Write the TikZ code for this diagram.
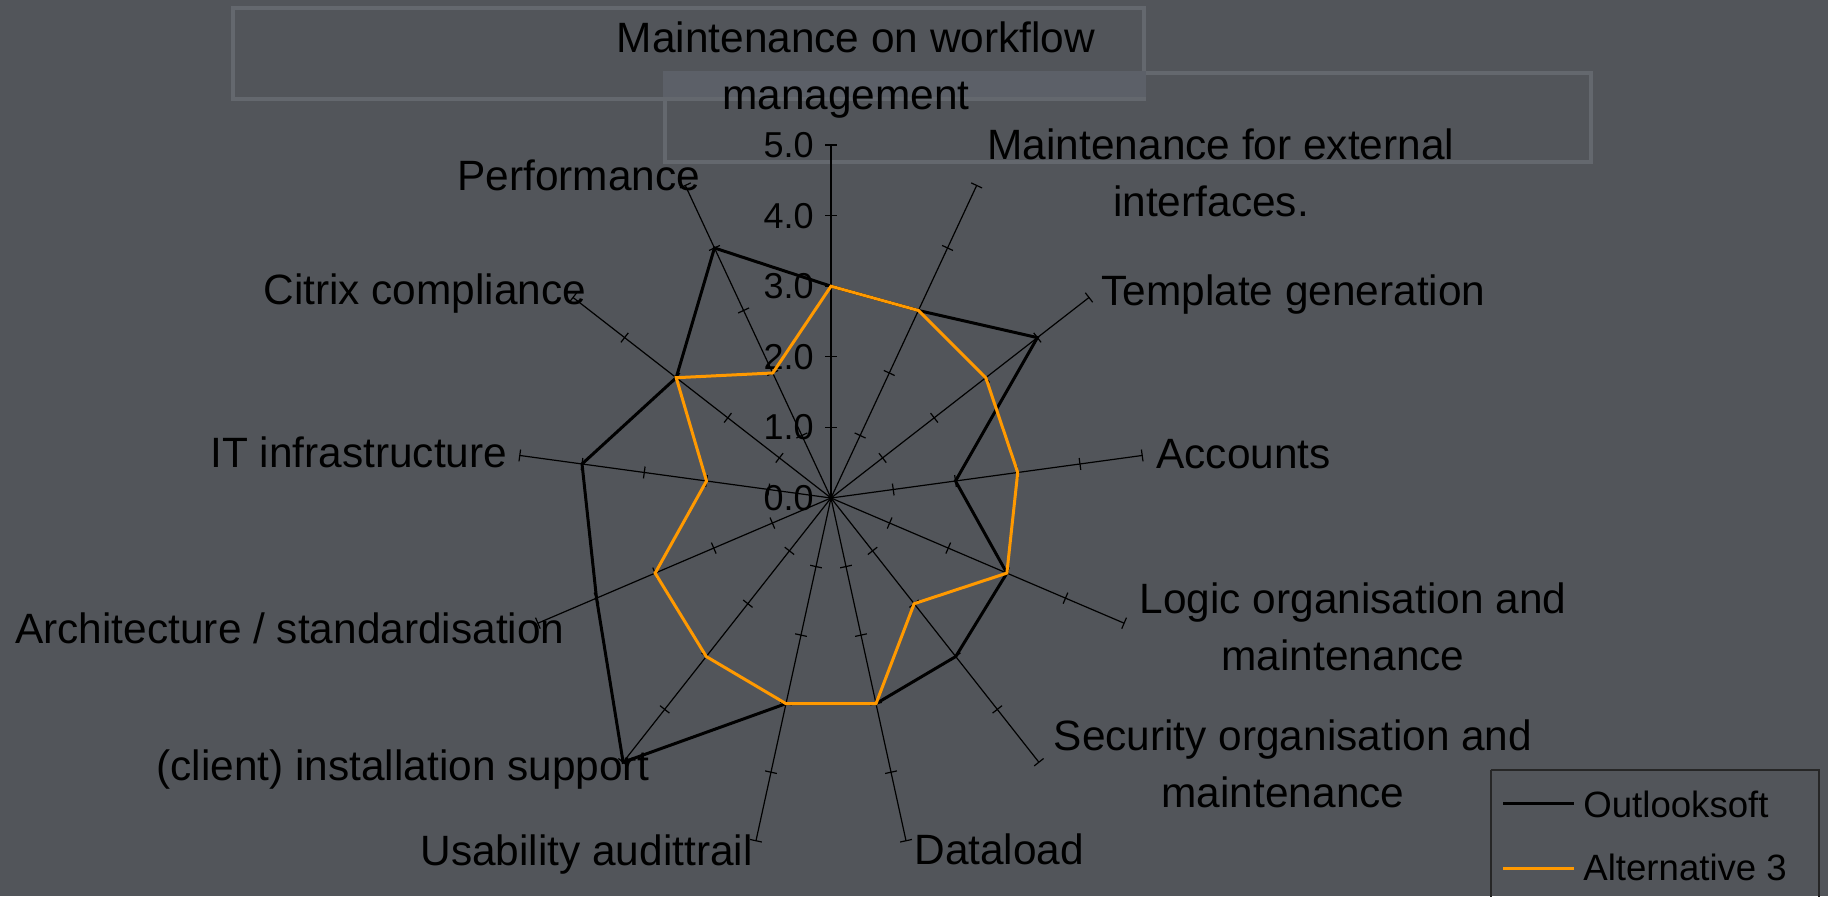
\documentclass[tikz,border=0pt]{standalone}
\usepackage{fontspec}
\setmainfont{Liberation Sans}
\definecolor{bgcol}{RGB}{82,85,90}
\definecolor{boxline}{RGB}{100,104,110}
\definecolor{boxfill}{RGB}{92,96,104}
\definecolor{altorange}{RGB}{255,153,0}
\newcommand\twoline[2]{\vtop{\baselineskip=28.75pt\halign{\hfil##\hfil\cr #1\cr #2\hskip 10pt\cr}}}
\tikzset{
  lbl/.style={inner sep=0pt, font=\fontsize{21.2pt}{28.75pt}\selectfont},
  numlbl/.style={inner sep=0pt, anchor=east, font=\fontsize{18pt}{21pt}\selectfont},
  leglbl/.style={inner sep=0pt, anchor=base west, font=\fontsize{18.3pt}{22pt}\selectfont},
  axisline/.style={line width=0.6pt, black},
  tickline/.style={line width=0.6pt, black},
  seriesA/.style={line width=1.5pt, black},
  seriesB/.style={line width=1.5pt, altorange},
  titlebox/.style={draw=boxline, line width=2pt},
  legbox/.style={draw=black!85, line width=0.6pt},
}
\begin{document}
\begin{tikzpicture}[x=0.5pt, y=-0.5pt]
\useasboundingbox (0,0) rectangle (1828,896);
\fill[bgcol] (0,0) rectangle (1828,896);

% title boxes
\draw[titlebox] (233,8) rectangle (1144,99);
\draw[titlebox] (665,73) rectangle (1591,162);
\fill[boxfill] (663,71) rectangle (1146,97);

% axes and ticks
\coordinate (c) at (831,498);
\foreach \k in {0,...,12} {
  \pgfmathsetmacro\th{\k*360/13}
  \pgfmathsetmacro\dx{62.7*sin(\th)}
  \pgfmathsetmacro\dy{-70.6*cos(\th)}
  \pgfmathsetmacro\len{sqrt(\dx*\dx+\dy*\dy)}
  \pgfmathsetmacro\nx{-\dy/\len*6}
  \pgfmathsetmacro\ny{\dx/\len*6}
  \coordinate (e\k) at ({831+5*\dx},{498+5*\dy});
  \draw[axisline] (c) -- (e\k);
  \foreach \v in {1,...,5}
    \draw[tickline] ({831+\v*\dx-\nx},{498+\v*\dy-\ny}) -- ++({2*\nx},{2*\ny});
}

% scale numbers
\foreach \v in {0,...,5}
  \node[numlbl] (n\v) at (814,{498-70.6*\v}) {\v.0};

% series
\foreach \k/\v in {0/3,1/3,2/4,3/2,4/3,5/3,6/3,7/3,8/5,9/4,10/4,11/3,12/4}
  \coordinate (a\k) at ({831+62.7*\v*sin(\k*360/13)},{498-70.6*\v*cos(\k*360/13)});
\foreach \k/\v in {0/3,1/3,2/3,3/3,4/3,5/2,6/3,7/3,8/3,9/3,10/2,11/3,12/2}
  \coordinate (b\k) at ({831+62.7*\v*sin(\k*360/13)},{498-70.6*\v*cos(\k*360/13)});
\draw[seriesA] (a0) -- (a1) -- (a2) -- (a3) -- (a4) -- (a5) -- (a6) -- (a7) -- (a8) -- (a9) -- (a10) -- (a11) -- (a12) -- cycle;
\draw[seriesB] (b0) -- (b1) -- (b2) -- (b3) -- (b4) -- (b5) -- (b6) -- (b7) -- (b8) -- (b9) -- (b10) -- (b11) -- (b12) -- cycle;

% category labels
\node[lbl, anchor=base] (l0) at (856,52) {\twoline{Maintenance on workflow}{management}};
\node[lbl, anchor=base] (l1) at (1221,159) {\twoline{Maintenance for external}{interfaces.}};
\node[lbl, anchor=base west] (l2) at (1101,305) {Template generation};
\node[lbl, anchor=base west] (l3) at (1156,468) {Accounts};
\node[lbl, anchor=base] (l4) at (1353,613) {\twoline{Logic organisation and}{maintenance}};
\node[lbl, anchor=base] (l5) at (1293,750) {\twoline{Security organisation and}{maintenance}};
\node[lbl, anchor=base west] (l6) at (914,864) {Dataload};
\node[lbl, anchor=base west] (l7) at (420,865) {Usability audittrail};
\node[lbl, anchor=base west] (l8) at (156,780) {(client) installation support};
\node[lbl, anchor=base west] (l9) at (15,643) {Architecture / standardisation};
\node[lbl, anchor=base west] (l10) at (210,467) {IT infrastructure};
\node[lbl, anchor=base west] (l11) at (263,304) {Citrix compliance};
\node[lbl, anchor=base west] (l12) at (457,190) {Performance};

% legend
\draw[legbox] (1491,770) -- (1819,770) -- (1819,900) (1491,900) -- (1491,770);
\coordinate (la1) at (1503,803);
\coordinate (la2) at (1574,803);
\coordinate (lb1) at (1503,868);
\coordinate (lb2) at (1574,868);
\draw[seriesA] (la1) -- (la2);
\draw[seriesB] (lb1) -- (lb2);
\node[leglbl] (ta) at (1583,817) {Outlooksoft};
\node[leglbl] (tb) at (1583,880) {Alternative 3};
\end{tikzpicture}
\end{document}
